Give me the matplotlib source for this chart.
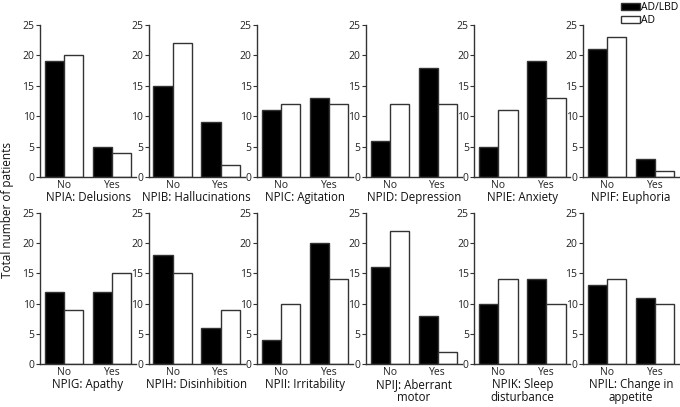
import matplotlib
matplotlib.use("Agg")
import matplotlib.pyplot as plt
from matplotlib.patches import Patch
import numpy as np

plt.rcParams['font.family'] = ['Open Sans', 'DejaVu Sans']

titles = ["NPIA: Delusions", "NPIB: Hallucinations", "NPIC: Agitation",
          "NPID: Depression", "NPIE: Anxiety", "NPIF: Euphoria",
          "NPIG: Apathy", "NPIH: Disinhibition", "NPII: Irritability",
          "NPIJ: Aberrant\nmotor", "NPIK: Sleep\ndisturbance", "NPIL: Change in\nappetite"]
categories = ["No", "Yes"]
ad_lbd = [[19, 5], [15, 9], [11, 13], [6, 18], [5, 19], [21, 3],
          [12, 12], [18, 6], [4, 20], [16, 8], [10, 14], [13, 11]]
ad = [[20, 4], [22, 2], [12, 12], [12, 12], [11, 13], [23, 1],
      [9, 15], [15, 9], [10, 14], [22, 2], [14, 10], [14, 10]]
series_names = ["AD/LBD", "AD"]
yticks = [0, 5, 10, 15, 20, 25]

W, H = 680, 407
fig = plt.figure(figsize=(W / 100, H / 100), dpi=100)

lefts = [40, 148.6, 257.2, 365.8, 474.4, 583]
rows = [(25, 177), (213, 364)]
axw = 96
edge = "#333333"

x = np.arange(len(categories))
bw = 0.4
for i in range(12):
    r, c = divmod(i, 6)
    top, bot = rows[r]
    ax = fig.add_axes([lefts[c] / W, 1 - bot / H, axw / W, (bot - top) / H])
    ax.bar(x - bw / 2, ad_lbd[i], bw, color="black", edgecolor=edge, linewidth=1)
    ax.bar(x + bw / 2, ad[i], bw, color="white", edgecolor=edge, linewidth=1)
    ax.set_xlim(-0.5, 1.5)
    ax.set_ylim(0, 25)
    ax.set_yticks(yticks)
    ax.set_xticks(x)
    ax.set_xticklabels(categories)
    ax.tick_params(axis='x', length=0, pad=2, labelsize=7.5, colors="#222222")
    ax.tick_params(axis='y', length=3, width=0.8, pad=1, labelsize=7.5,
                   colors="#333333", labelcolor="#222222")
    for s in ["top", "right"]:
        ax.spines[s].set_visible(False)
    for s in ["left", "bottom"]:
        ax.spines[s].set_color(edge)
        ax.spines[s].set_linewidth(1)
    ax.set_xlabel(titles[i], fontsize=8.3, labelpad=0, linespacing=1.0, color="#111111")

fig.text(8 / W, 1 - 210 / H, "Total number of patients", rotation=90,
         ha="center", va="center", fontsize=8.5, color="#111111")

handles = [Patch(facecolor="black", edgecolor=edge, label=series_names[0]),
           Patch(facecolor="white", edgecolor=edge, label=series_names[1])]
fig.legend(handles=handles, loc="upper right", bbox_to_anchor=(1.0, 1.0),
           frameon=False, fontsize=7.5, handlelength=1.8, handleheight=0.6,
           handletextpad=0.1, labelspacing=0.2, borderpad=0.1, borderaxespad=0.1)

fig.savefig("out.png", dpi=100)
